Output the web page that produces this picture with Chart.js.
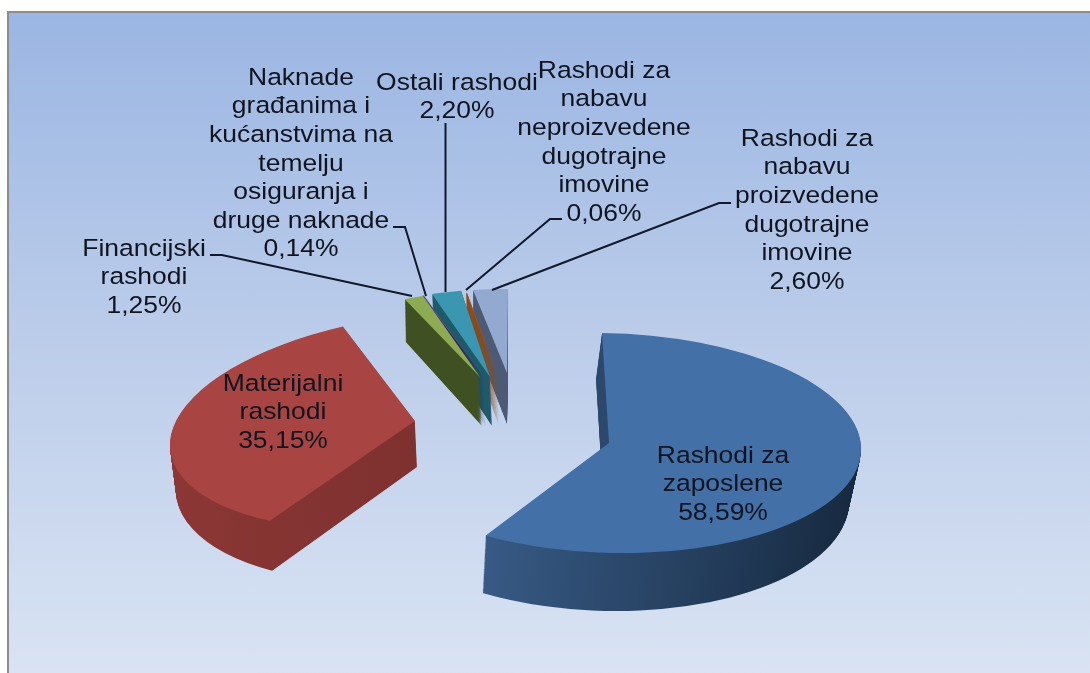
<!DOCTYPE html>
<html>
<head>
<meta charset="utf-8">
<title>Rashodi</title>
<script src="https://cdn.jsdelivr.net/npm/chart.js@4/dist/chart.umd.min.js"></script>
<style>
html, body { margin: 0; padding: 0; background: #fff; overflow: hidden; }
#panel {
    position: absolute; left: 7px; top: 11px; width: 1081px; height: 660px;
    border-left: 2px solid #8c8c8c; border-top: 2px solid #8c8c8c;
    background: linear-gradient(to bottom, #9bb6e3 0%, #bccdea 50%, #d9e3f3 100%);
}
canvas { position: absolute; left: 0; top: 0; }
</style>
</head>
<body>
<div id="panel"></div>
<canvas id="chart" width="1090" height="673"></canvas>
<script>
// Podaci
const categories = [
    ['Rashodi za', 'zaposlene'],
    ['Materijalni', 'rashodi'],
    ['Financijski', 'rashodi'],
    ['Naknade', 'građanima i', 'kućanstvima na', 'temelju', 'osiguranja i', 'druge naknade'],
    ['Ostali rashodi'],
    ['Rashodi za', 'nabavu', 'neproizvedene', 'dugotrajne', 'imovine'],
    ['Rashodi za', 'nabavu', 'proizvedene', 'dugotrajne', 'imovine']
];
const values = [58.59, 35.15, 1.25, 0.14, 2.20, 0.06, 2.60];

// Boje
const topColors = ['#4270a7', '#a84543', '#8dab52', '#5b4a86', '#3b97b1', '#a35a20', '#93a9d0'];
const wallLeft = ['#42699a', '#8c3735', '#3f5122', '#2f2752', '#1f5a6b', '#8a4a18', '#4c5a75'];
const wallRight = ['#16293f', '#702b2a', '#3f5122', '#2f2752', '#1f5a6b', '#8a4a18', '#4c5a75'];

// Izgled: središte prikaza i rasponi gornje i donje plohe svakog izrezanog dijela
const frames = [
    { top: [609, 443, 252, 3, -7, -110], bottom: [603, 495, 246, 3, -7, -116] },
    { top: [415, 421, 244, -14, 23, -108], bottom: [417, 467, 240, -10, 25, -115] },
    { top: [480, 377, 240, -9, 18, -88], bottom: [482, 426, 243, -9, 18, -95] },
    { top: [484, 377, 235, -5, 11, -87], bottom: [486, 426, 235, -5, 11, -92] },
    { top: [490, 377, 215, -3, 7, -88], bottom: [492, 426, 215, -3, 7, -93] },
    { top: [498, 377, 215, -3, 4, -86], bottom: [499, 426, 215, -3, 4, -91] },
    { top: [507, 373, 215, 0, 1, -84], bottom: [507, 424, 215, 0, 1, -89] }
];
const drawOrder = [6, 5, 4, 3, 2, 1, 0];

// Natpisi: središte x i y prvog retka
const labelX = [723, 283, 144, 301, 457, 604, 807];
const labelY = [456, 384, 249, 78, 83, 71, 139];
const leaders = [
    null,
    null,
    [[210, 255], [222, 255], [412, 296]],
    [[393, 227], [405, 227], [426, 296]],
    [[445.5, 123], [445.5, 292]],
    [[562, 219], [550, 219], [466, 290]],
    [[731, 203], [719, 203], [492, 290]]
];
const lineHeight = 28.6;
const textStretch = 1.08;

function formatValue(v) {
    return v.toFixed(2).replace('.', ',') + '%';
}

function setFrame(ctx, arc, f) {
    const R = arc.outerRadius;
    ctx.setTransform(f[2] / R, f[3] / R, -f[4] / R, -f[5] / R, f[0], f[1]);
    ctx.translate(-arc.x, -arc.y);
}

// Crtanje kriški u "3D" - luk crta sam Chart.js, mi samo mijenjamo transformaciju
const pie3d = {
    id: 'pie3d',
    beforeDatasetsDraw(chart) {
        const ctx = chart.ctx;
        const arcs = chart.getDatasetMeta(0).data;
        const steps = 60;
        drawOrder.forEach(i => {
            const arc = arcs[i];
            const { top, bottom } = frames[i];
            const opts = arc.options;
            const grad = ctx.createLinearGradient(arc.x - arc.outerRadius, 0, arc.x + arc.outerRadius, 0);
            grad.addColorStop(0, wallLeft[i]);
            grad.addColorStop(1, wallRight[i]);
            ctx.save();
            arc.options = Object.assign({}, opts, { backgroundColor: grad });
            for (let s = steps; s > 0; s--) {
                const t = s / steps;
                setFrame(ctx, arc, top.map((v, k) => v + (bottom[k] - v) * t));
                arc.draw(ctx);
            }
            arc.options = opts;
            setFrame(ctx, arc, top);
            arc.draw(ctx);
            ctx.restore();
        });
        return false;
    },
    // afterDatasetsDraw se ne poziva kad beforeDatasetsDraw vrati false
    afterDraw(chart) {
        const ctx = chart.ctx;
        ctx.save();
        ctx.strokeStyle = '#10182a';
        ctx.lineWidth = 2;
        leaders.forEach(pts => {
            if (!pts) return;
            ctx.beginPath();
            pts.forEach((p, k) => k ? ctx.lineTo(p[0], p[1]) : ctx.moveTo(p[0], p[1]));
            ctx.stroke();
        });
        ctx.fillStyle = '#11141f';
        ctx.font = '24.5px "Liberation Sans", Arial, sans-serif';
        ctx.textAlign = 'center';
        ctx.textBaseline = 'middle';
        categories.forEach((lines, i) => {
            lines.concat(formatValue(values[i])).forEach((line, k) => {
                ctx.save();
                ctx.translate(labelX[i], labelY[i] + k * lineHeight);
                ctx.scale(textStretch, 1);
                ctx.fillText(line, 0, 0);
                ctx.restore();
            });
        });
        ctx.restore();
    }
};

new Chart(document.getElementById('chart'), {
    type: 'pie',
    data: {
        labels: categories.map(c => c.join(' ')),
        datasets: [{
            data: values,
            backgroundColor: topColors,
            borderWidth: 0,
            radius: 200
        }]
    },
    options: {
        responsive: false,
        animation: false,
        events: [],
        plugins: {
            legend: { display: false },
            tooltip: { enabled: false }
        }
    },
    plugins: [pie3d]
});
</script>
</body>
</html>
